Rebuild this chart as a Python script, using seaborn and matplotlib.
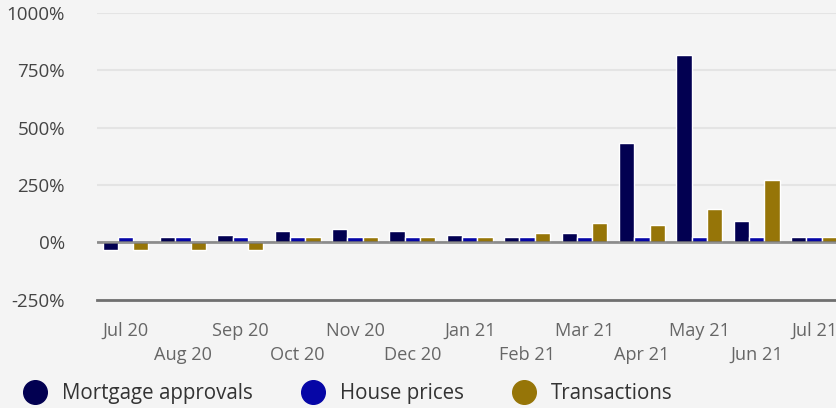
import matplotlib
matplotlib.use("Agg")
import matplotlib.pyplot as plt
from matplotlib.lines import Line2D
import pandas as pd
import seaborn as sns

# monthly % change
months = ["Jul 20", "Aug 20", "Sep 20", "Oct 20", "Nov 20", "Dec 20", "Jan 21",
          "Feb 21", "Mar 21", "Apr 21", "May 21", "Jun 21", "Jul 21"]
mortgage_approvals = [-34, 23, 32, 49, 58, 49, 32, 23, 41, 433, 817, 93, 23]
house_prices = [23, 23, 23, 23, 23, 23, 23, 23, 23, 23, 23, 23, 23]
transactions = [-34, -34, -34, 23, 23, 23, 23, 41, 84, 75, 145, 272, 23]
series_names = ["Mortgage approvals", "House prices", "Transactions"]
series_colors = ["#020051", "#0606a6", "#967508"]
y_ticks = [-250, 0, 250, 500, 750, 1000]

frames = []
for name, vals in zip(series_names, [mortgage_approvals, house_prices, transactions]):
    frames.append(pd.DataFrame({"month": months, "value": vals, "series": name}))
df = pd.concat(frames, ignore_index=True)

sns.set_theme(style="white")
plt.rcParams["font.family"] = ["Open Sans", "DejaVu Sans"]
bg = "#f4f4f4"

fig = plt.figure(figsize=(8.36, 4.08), dpi=100, facecolor=bg)
ax = fig.add_axes([0.116, 0.2654, 0.884, 0.7027], facecolor=bg)

sns.barplot(data=df, x="month", y="value", hue="series", order=months,
            hue_order=series_names, palette=series_colors, saturation=1,
            width=0.8, ax=ax, legend=False, zorder=2)

ax.set_ylim(-250, 1000)
ax.set_xlim(-0.497, 12.383)
ax.set_yticks(y_ticks)
ax.set_yticklabels([f"{t}%" for t in y_ticks], color="#444444", fontsize=13.5)
ax.grid(axis="y", color="#e4e4e4", lw=1.5, zorder=0)
ax.axhline(0, color="#6e6e6e", lw=2, alpha=0.75, zorder=3)

for s in ["top", "right", "left"]:
    ax.spines[s].set_visible(False)
ax.spines["bottom"].set_color("#707070")
ax.spines["bottom"].set_linewidth(2)

ax.set_xticks(range(len(months)))
ax.set_xticklabels([m if i % 2 == 0 else "\n" + m for i, m in enumerate(months)],
                   color="#666666", fontsize=13.1, linespacing=1.45)
ax.tick_params(axis="both", length=0)
ax.tick_params(axis="x", pad=16)
ax.tick_params(axis="y", pad=23)
ax.set_xlabel("")
ax.set_ylabel("")

handles = [Line2D([], [], marker="o", ls="", markersize=17, color=c) for c in series_colors]
fig.legend(handles, series_names, loc="lower left", bbox_to_anchor=(-0.005, -0.035),
           ncol=3, frameon=False, fontsize=14.8, handletextpad=0.3, columnspacing=1.95,
           labelcolor="#333333")

fig.savefig("out.png", dpi=100, facecolor=bg)
